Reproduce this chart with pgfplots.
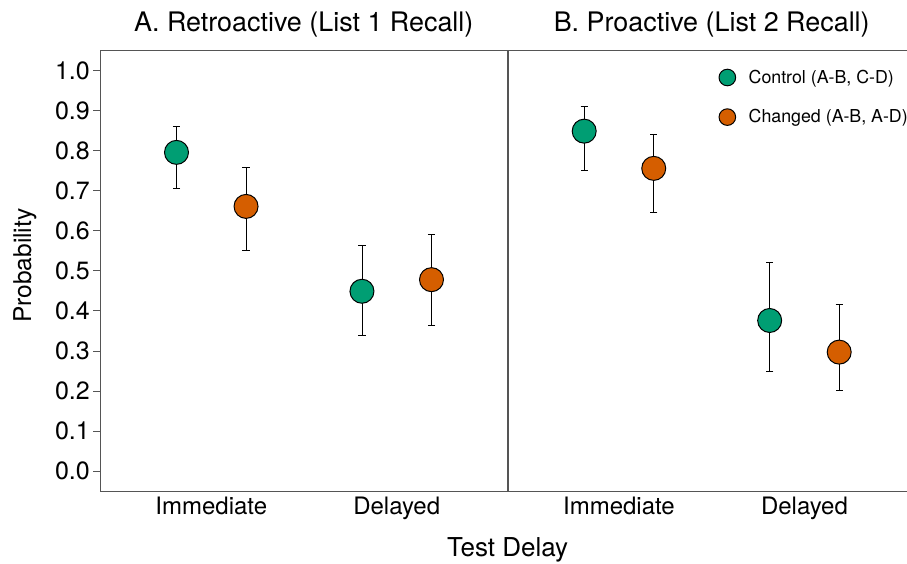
\documentclass[border=0pt]{standalone}
\usepackage{fontspec}
\setmainfont{TeX Gyre Heros}
\usepackage{pgfplots}
\pgfplotsset{compat=1.18}
\definecolor{cgreen}{HTML}{009E73}
\definecolor{corange}{HTML}{D55E00}
\definecolor{framec}{HTML}{555555}

\pgfplotstableread{
x       y      ep     em
0.8125  0.796  0.066  0.089
1.8125  0.449  0.114  0.110
}\leftctrl
\pgfplotstableread{
x       y      ep     em
1.1875  0.661  0.097  0.109
2.1875  0.478  0.113  0.114
}\leftchg
\pgfplotstableread{
x       y      ep     em
0.8125  0.849  0.062  0.099
1.8125  0.376  0.146  0.128
}\rightctrl
\pgfplotstableread{
x       y      ep     em
1.1875  0.756  0.084  0.110
2.1875  0.297  0.120  0.096
}\rightchg

\pgfplotsset{
  panel/.style={
    scale only axis, width=408pt, height=440.3pt,
    xmin=0.4, xmax=2.6, ymin=-0.05, ymax=1.05,
    xtick={1,2}, xticklabels={Immediate,Delayed},
    ytick={0,0.1,0.2,0.3,0.4,0.5,0.6,0.7,0.8,0.9,1.0},
    axis line style={framec, line width=0.8pt},
    tick align=outside,
    ytick pos=left, xtick pos=bottom,
    major tick length=6.5pt,
    ytick style={framec, line width=0.8pt},
    xtick style={draw=none},
    xticklabel style={font=\fontsize{24}{28}\selectfont, anchor=base, inner sep=0pt},
    xticklabel shift=0pt,
    yticklabel style={font=\fontsize{25}{29}\selectfont, anchor=east, inner sep=0pt,
      /pgf/number format/fixed, /pgf/number format/fixed zerofill, /pgf/number format/precision=1},
    /pgf/number format/assume math mode=true,
    clip=false,
  },
  ptbase/.style={only marks, mark=*, mark size=12pt},
  errs/.style={error bars/.cd, y dir=both, y explicit, error mark=|,
      error bar style={black, line width=0.9pt},
      error mark options={black, line width=0.9pt, mark size=3.6pt}},
}

\begin{document}
\begin{tikzpicture}
\begin{axis}[panel, at={(100pt,-491pt)}, anchor=south west,
   xticklabel style={yshift=-16.5pt},
   yticklabel style={xshift=-3.5pt}]
  \addplot[ptbase, mark options={fill=cgreen, draw=black, line width=1pt}, errs]
     table[x=x, y=y, y error plus=ep, y error minus=em]{\leftctrl};
  \addplot[ptbase, mark options={fill=corange, draw=black, line width=1pt}, errs]
     table[x=x, y=y, y error plus=ep, y error minus=em]{\leftchg};
\end{axis}
\begin{axis}[panel, at={(507.7pt,-491pt)}, anchor=south west,
   xticklabel style={yshift=-16.5pt},
   yticklabels={}, major y tick style={draw=none}, ytick pos=right,
   legend cell align=left,
   legend image code/.code={\draw[#1, mark size=8.3pt] plot coordinates {(0pt,0pt)};},
   legend style={at={(0.518,0.958)}, anchor=north west, draw=none, fill=none,
     inner sep=0pt, outer sep=0pt, row sep=23pt, column sep=13pt,
     font=\fontsize{17.8}{21}\selectfont, nodes={inner sep=0pt}}]
  \addplot[ptbase, mark options={fill=cgreen, draw=black, line width=1pt}, errs]
     table[x=x, y=y, y error plus=ep, y error minus=em]{\rightctrl};
  \addlegendentry{Control (A-B, C-D)}
  \addplot[ptbase, mark options={fill=corange, draw=black, line width=1pt}, errs]
     table[x=x, y=y, y error plus=ep, y error minus=em]{\rightchg};
  \addlegendentry{Changed (A-B, A-D)}
\end{axis}
\node[anchor=base, font=\fontsize{26.9}{31}\selectfont, inner sep=0pt] at (303.7pt,-31.7pt) {A. Retroactive (List 1 Recall)};
\node[anchor=base, font=\fontsize{26.9}{31}\selectfont, inner sep=0pt] at (711.7pt,-31.7pt) {B. Proactive (List 2 Recall)};
\node[anchor=base, font=\fontsize{26}{31}\selectfont, inner sep=0pt] at (507.7pt,-556.7pt) {Test Delay};
\node[anchor=base, rotate=90, font=\fontsize{24.5}{29}\selectfont, inner sep=0pt] at (31pt,-265.7pt) {Probability};
\pgfresetboundingbox
\path[use as bounding box] (0pt,0pt) rectangle (907pt,-564pt);
\end{tikzpicture}
\end{document}
